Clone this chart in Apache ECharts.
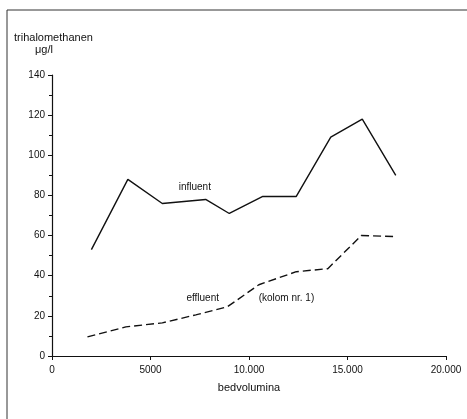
<!DOCTYPE html>
<html>
<head>
<meta charset="utf-8">
<script src="https://cdn.jsdelivr.net/npm/echarts@6/dist/echarts.min.js"></script>
<style>
  html, body { margin: 0; padding: 0; background: #fff; }
  #chart { width: 467px; height: 419px; }
</style>
</head>
<body>
<div id="chart"></div>
<script>
// bedvolumina (x) en trihalomethanen in ug/l (y)
const influentX = [2000, 3850, 5600, 7800, 9000, 10700, 12400, 14150, 15750, 17450];
const influentY = [53, 88, 76, 78, 71, 79.5, 79.5, 109, 118, 90];

const effluentX = [1800, 3750, 5600, 7300, 8900, 10500, 12400, 14000, 15700, 17450];
const effluentY = [9.5, 14.5, 16.5, 20.5, 24.5, 35.5, 42, 43.5, 60, 59.5];

const xTicks = [0, 5000, 10000, 15000, 20000];
const yTicks = [0, 20, 40, 60, 80, 100, 120, 140];

// tekstjes in de grafiek: [tekst, x, y]
const notes = [
  ['influent', 7250, 84],
  ['effluent', 7650, 29],
  ['(kolom nr. 1)', 11900, 29]
];

const font = 'Liberation Sans, Arial, sans-serif';
const ink = '#111';

const chart = echarts.init(document.getElementById('chart'));

function pairs(xs, ys) {
  return xs.map((x, i) => [x, ys[i]]);
}

const option = {
  animation: false,
  backgroundColor: '#fff',
  textStyle: { fontFamily: font, color: ink },
  grid: {
    left: 52,
    right: 21,
    top: 75,
    bottom: 63
  },
  xAxis: {
    type: 'value',
    min: xTicks[0],
    max: xTicks[xTicks.length - 1],
    interval: 5000,
    name: 'bedvolumina',
    nameLocation: 'middle',
    nameGap: 26,
    nameTextStyle: { fontSize: 11, color: ink, fontFamily: font },
    axisLine: { lineStyle: { color: ink, width: 1.2 } },
    axisTick: { inside: false, length: 4, lineStyle: { color: ink } },
    axisLabel: {
      fontSize: 10,
      color: ink,
      margin: 9,
      formatter: v => v >= 10000 ? (v / 1000) + '.000' : String(v)
    },
    splitLine: { show: false }
  },
  yAxis: {
    type: 'value',
    min: yTicks[0],
    max: yTicks[yTicks.length - 1],
    interval: 20,
    axisLine: { show: true, lineStyle: { color: ink, width: 1.2 } },
    axisTick: { show: true, length: 4, lineStyle: { color: ink } },
    minorTick: { show: true, splitNumber: 2, length: 3, lineStyle: { color: ink } },
    axisLabel: { fontSize: 10, color: ink, margin: 7 },
    splitLine: { show: false }
  },
  graphic: [
    // rand van de scan
    { type: 'line', shape: { x1: 7, y1: 10, x2: 467, y2: 10 }, style: { stroke: '#333', lineWidth: 1 } },
    { type: 'line', shape: { x1: 7, y1: 10, x2: 7, y2: 419 }, style: { stroke: '#333', lineWidth: 1 } },
    { type: 'text', left: 14, top: 32, style: { text: 'trihalomethanen', font: '11px ' + font, fill: ink } },
    { type: 'text', left: 35, top: 44, style: { text: 'μg/l', font: '11px ' + font, fill: ink } }
  ],
  series: [
    {
      name: 'influent',
      type: 'line',
      data: pairs(influentX, influentY),
      symbol: 'none',
      lineStyle: { color: ink, width: 1.4 },
      markPoint: {
        symbol: 'circle',
        symbolSize: 0,
        label: { show: true, position: 'inside', fontSize: 10, color: ink, fontFamily: font, formatter: p => p.name },
        data: notes.map(n => ({ name: n[0], coord: [n[1], n[2]] }))
      }
    },
    {
      name: 'effluent',
      type: 'line',
      data: pairs(effluentX, effluentY),
      symbol: 'none',
      lineStyle: { color: ink, width: 1.4, type: [8, 4] }
    }
  ]
};

chart.setOption(option);
</script>
</body>
</html>
